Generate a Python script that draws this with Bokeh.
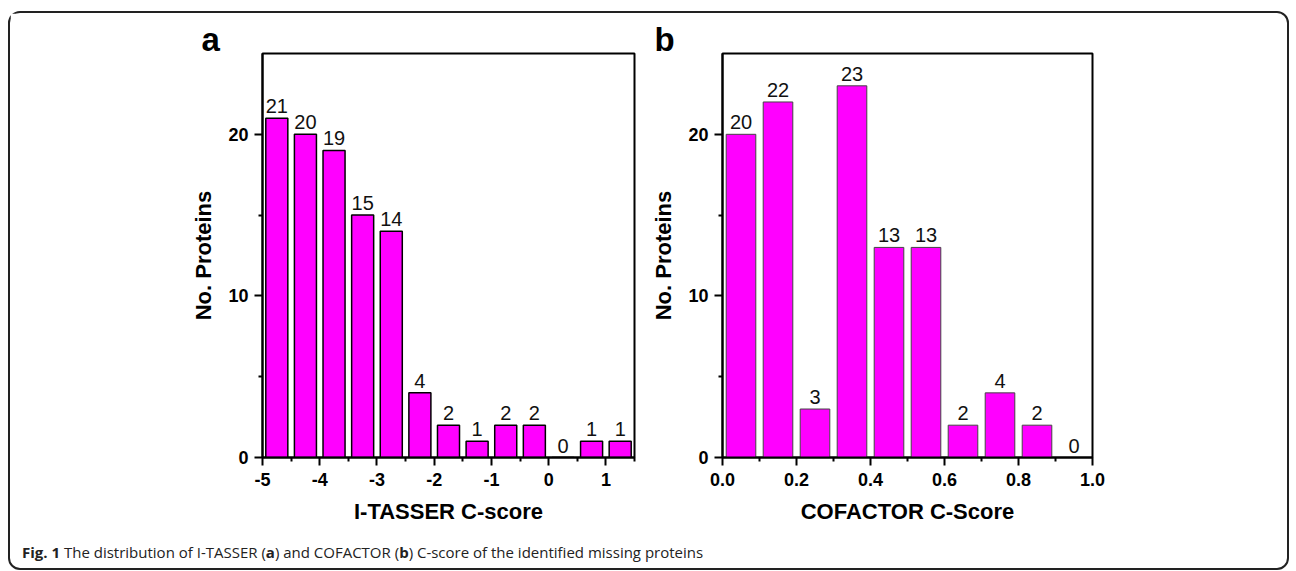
from bokeh.plotting import figure
from bokeh.models import FixedTicker, Div, NumeralTickFormatter, ColumnDataSource
from bokeh.layouts import column, row
from bokeh.embed import file_html
from bokeh.resources import INLINE
from bokeh.core.properties import value

# ---- data ----
itasser_bin_centers = [-4.75, -4.25, -3.75, -3.25, -2.75, -2.25, -1.75, -1.25, -0.75, -0.25, 0.25, 0.75, 1.25]
itasser_counts = [21, 20, 19, 15, 14, 4, 2, 1, 2, 2, 0, 1, 1]
cofactor_bin_centers = [0.05, 0.15, 0.25, 0.35, 0.45, 0.55, 0.65, 0.75, 0.85, 0.95]
cofactor_counts = [20, 22, 3, 23, 13, 13, 2, 4, 2, 0]
y_ticks = [0, 10, 20]
y_minor = [5, 15]
itasser_ticks = [-5, -4, -3, -2, -1, 0, 1]
itasser_minor = [-4.5, -3.5, -2.5, -1.5, -0.5, 0.5, 1.5]
cofactor_ticks = [0.0, 0.2, 0.4, 0.6, 0.8, 1.0]
cofactor_minor = [0.1, 0.3, 0.5, 0.7, 0.9]

FONT = "Liberation Sans"
MAG = "#FF00FF"


def make_panel(xs, counts, x_range, ticks, minor, width, bl, br, bar_w, edge, edge_w,
               xlabel, letter, letter_off, fmt):
    p = figure(width=width, height=524, x_range=x_range, y_range=(0, 25),
               output_backend="svg", toolbar_location=None,
               min_border_left=bl, min_border_right=br, min_border_top=40, min_border_bottom=80)
    p.grid.visible = False
    p.background_fill_color = "white"
    p.border_fill_color = "white"
    p.outline_line_color = "black"
    p.outline_line_width = 2
    # panel letter as title
    p.title.text = letter
    p.title.align = "left"
    p.title.offset = letter_off
    p.title.standoff = -8
    p.title.text_font = FONT
    p.title.text_font_style = "bold"
    p.title.text_font_size = "33px"
    p.title.text_color = "black"
    src = ColumnDataSource(dict(x=xs, top=counts, lab=[str(c) for c in counts]))
    p.vbar(x="x", top="top", bottom=0, width=bar_w, source=src,
           fill_color=MAG, line_color=edge, line_width=edge_w)
    p.text(x="x", y="top", text="lab", source=src, text_align="center",
           text_baseline="bottom", y_offset=-5,
           text_font=value(FONT), text_font_size="20px", text_color="#111")
    for ax in (p.xaxis[0], p.yaxis[0]):
        ax.axis_line_width = 2
        ax.major_tick_line_width = 2
        ax.minor_tick_line_width = 2
        ax.major_tick_out = 8
        ax.major_tick_in = 0
        ax.minor_tick_out = 4
        ax.minor_tick_in = 0
        ax.major_label_text_font = FONT
        ax.major_label_text_font_style = "bold"
        ax.major_label_text_font_size = "18px"
        ax.major_label_text_color = "black"
        ax.axis_label_text_font = FONT
        ax.axis_label_text_font_style = "bold"
        ax.axis_label_text_font_size = "22px"
        ax.axis_label_text_color = "black"
    p.xaxis.ticker = FixedTicker(ticks=ticks, minor_ticks=minor)
    p.yaxis.ticker = FixedTicker(ticks=y_ticks, minor_ticks=y_minor)
    p.xaxis.formatter = NumeralTickFormatter(format=fmt)
    p.xaxis.major_label_standoff = 7
    p.yaxis.major_label_standoff = 6
    p.xaxis.axis_label = xlabel
    p.yaxis.axis_label = "No. Proteins"
    p.xaxis.axis_label_standoff = 10
    p.yaxis.axis_label_standoff = 9
    return p


pa = make_panel(itasser_bin_centers, itasser_counts, (-5, 1.5), itasser_ticks, itasser_minor,
                637, 252, 13, 0.385, "black", 1.5, "I-TASSER C-score", "a", -61, "0")
pb = make_panel(cofactor_bin_centers, cofactor_counts, (0, 1), cofactor_ticks, cofactor_minor,
                630, 75, 185, 0.08, "#444444", 1.0, "COFACTOR C-Score", "b", -68, "0.0")

caption = Div(text='<b>Fig. 1</b> The distribution of I-TASSER (<b>a</b>) and COFACTOR (<b>b</b>) '
                   'C-score of the identified missing proteins',
              width=1267, height=21,
              styles={"font-family": "Open Sans", "font-size": "15px", "color": "#222",
                      "padding-left": "7px", "line-height": "20px"})

layout = column(row(pa, pb), caption,
                styles={"border": "2px solid #222", "border-radius": "12px", "background": "white"},
                margin=(11, 0, 0, 8))

open("out.html", "w").write(file_html(layout, INLINE))
